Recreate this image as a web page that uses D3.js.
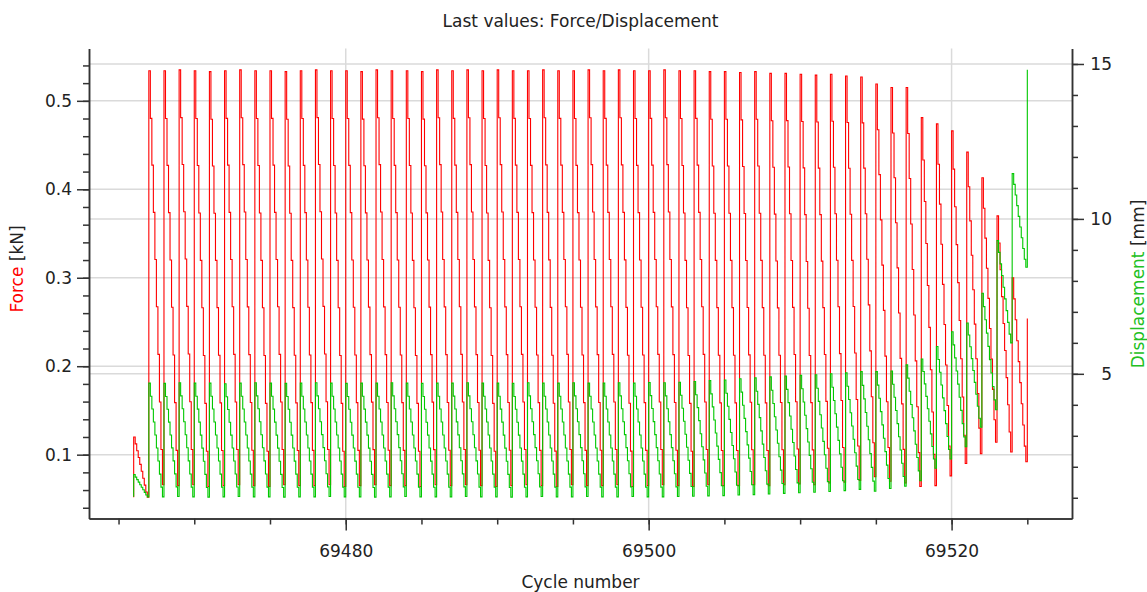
<!DOCTYPE html>
<html><head><meta charset="utf-8">
<script src="https://cdn.jsdelivr.net/npm/d3@7/dist/d3.min.js"></script>
<style>
html,body{margin:0;padding:0;background:#fff;}
svg text{font-family:"DejaVu Sans",Verdana,sans-serif;fill:#222;}
</style></head><body>
<svg id="chart" width="1147" height="592"></svg>
<script>
// Cycle-by-cycle readings: each cycle starts at its peak and decays to its low value
const firstCycle = 69466;
const forceStart = 0.052;   // kN, first sample before the first peak
const dispStart = 1.03;     // mm

// Force peak per cycle (kN), cycles 69466 .. 69525
const forcePeak = [
  0.120,
  0.534, 0.534, 0.535, 0.534, 0.533, 0.534, 0.535, 0.534, 0.534, 0.533,
  0.534, 0.535, 0.534, 0.534, 0.533, 0.535, 0.534, 0.534, 0.533, 0.535,
  0.534, 0.535, 0.534, 0.535, 0.534, 0.534, 0.535, 0.534, 0.534, 0.535,
  0.534, 0.535, 0.534, 0.534, 0.535, 0.534, 0.534, 0.533, 0.533, 0.532,
  0.533, 0.531, 0.531, 0.530, 0.529, 0.530, 0.528, 0.527, 0.519, 0.515,
  0.515, 0.481, 0.474, 0.466, 0.442, 0.413, 0.370, 0.300, 0.254
];
// Force at the end of each cycle (kN), cycles 69466 .. 69524
const forceLow = [
  0.052,
  0.066, 0.065, 0.066, 0.064, 0.065, 0.066, 0.065, 0.064, 0.066, 0.065,
  0.065, 0.066, 0.064, 0.065, 0.066, 0.065, 0.065, 0.064, 0.066, 0.065,
  0.066, 0.065, 0.064, 0.065, 0.066, 0.065, 0.064, 0.066, 0.065, 0.065,
  0.066, 0.064, 0.065, 0.066, 0.065, 0.064, 0.066, 0.065, 0.065, 0.066,
  0.065, 0.066, 0.067, 0.066, 0.068, 0.069, 0.071, 0.075, 0.070, 0.068,
  0.064, 0.065, 0.076, 0.090, 0.101, 0.114, 0.103, 0.092
];
// Displacement peak per cycle (mm), cycles 69466 .. 69525
const dispPeak = [
  1.75,
  4.70, 4.69, 4.71, 4.70, 4.70, 4.68, 4.70, 4.71, 4.70, 4.69,
  4.70, 4.71, 4.70, 4.69, 4.70, 4.70, 4.71, 4.70, 4.69, 4.70,
  4.70, 4.71, 4.70, 4.70, 4.69, 4.71, 4.70, 4.70, 4.71, 4.70,
  4.70, 4.71, 4.70, 4.72, 4.71, 4.73, 4.75, 4.78, 4.80, 4.84,
  4.87, 4.90, 4.93, 4.95, 4.97, 5.00, 5.03, 5.07, 5.07, 5.09,
  5.29, 5.48, 5.88, 6.36, 6.64, 7.60, 9.30, 11.46, 14.81
];
// Displacement at the end of each cycle (mm), cycles 69466 .. 69524
const dispLow = [
  1.03,
  1.03, 1.04, 1.03, 1.02, 1.03, 1.04, 1.03, 1.03, 1.02, 1.03,
  1.03, 1.04, 1.03, 1.03, 1.02, 1.03, 1.04, 1.03, 1.03, 1.03,
  1.04, 1.03, 1.03, 1.02, 1.03, 1.04, 1.03, 1.03, 1.04, 1.03,
  1.03, 1.04, 1.03, 1.03, 1.04, 1.05, 1.06, 1.07, 1.09, 1.10,
  1.12, 1.14, 1.16, 1.18, 1.20, 1.23, 1.27, 1.21, 1.30, 1.37,
  1.55, 1.95, 2.25, 2.65, 3.28, 3.84, 6.00, 8.44
];
// Share of the peak-to-low span left at each of the 10 samples within a cycle
const decayShare = [1.0, 0.885, 0.772, 0.658, 0.544, 0.43, 0.315, 0.2, 0.085, 0.0];

const xMajorTicks = [69480, 69500, 69520];
const xMinorTicks = d3.range(69465, 69530, 5);
const forceMajorTicks = [0.1, 0.2, 0.3, 0.4, 0.5];
const forceMinorTicks = d3.range(0.04, 0.56, 0.02);
const dispMajorTicks = [5, 10, 15];
const dispMinorTicks = d3.range(1, 16, 1);

const RED = "#ff0000", GREEN = "#00c800", INK = "#222", AXIS = "#333", GRID = "#dadada";

function buildSeries(start, peaks, lows) {
  const pts = [{c: firstCycle, v: start}];
  peaks.forEach((p, i) => {
    const c = firstCycle + i;
    if (i < lows.length) {
      decayShare.forEach((s, k) => {
        pts.push({c: c + k / decayShare.length, v: lows[i] + (p - lows[i]) * s});
      });
    } else {
      pts.push({c: c, v: p});
    }
  });
  return pts;
}
const forceSeries = buildSeries(forceStart, forcePeak, forceLow);
const dispSeries = buildSeries(dispStart, dispPeak, dispLow);

function padded(ext) { const d = (ext[1] - ext[0]) * 0.05; return [ext[0] - d, ext[1] + d]; }

const L = 89, R = 1072, T = 48.5, B = 518.5;
const svg = d3.select("#chart");

const x = d3.scaleLinear().domain(padded(d3.extent(forceSeries, d => d.c))).range([L, R]);
const yF = d3.scaleLinear().domain(padded(d3.extent(forceSeries, d => d.v))).range([B, T]);
const yD = d3.scaleLinear().domain(padded(d3.extent(dispSeries, d => d.v))).range([B, T]);

// grid
const grid = svg.append("g").attr("stroke", GRID).attr("stroke-width", 1.5);
xMajorTicks.forEach(t => grid.append("line").attr("x1", x(t)).attr("x2", x(t)).attr("y1", T).attr("y2", B));
forceMajorTicks.forEach(t => grid.append("line").attr("x1", L).attr("x2", R).attr("y1", yF(t)).attr("y2", yF(t)));
dispMajorTicks.forEach(t => grid.append("line").attr("x1", L).attr("x2", R).attr("y1", yD(t)).attr("y2", yD(t)));

// series: held values between samples give the stepped look
const plot = svg.append("g");
plot.append("path").datum(forceSeries)
  .attr("fill", "none").attr("stroke", RED).attr("stroke-width", 1.1)
  .attr("d", d3.line().curve(d3.curveStepAfter).x(d => x(d.c)).y(d => yF(d.v)));
plot.append("path").datum(dispSeries)
  .attr("fill", "none").attr("stroke", GREEN).attr("stroke-width", 1.1)
  .attr("d", d3.line().curve(d3.curveStepAfter).x(d => x(d.c)).y(d => yD(d.v)));

function styleAxis(g) {
  g.selectAll("path,line").attr("stroke", AXIS).attr("stroke-width", 1.5);
  g.selectAll("text").attr("fill", INK).style("font-size", "17px")
    .style("font-family", '"DejaVu Sans", Verdana, sans-serif');
}

// left axis
svg.append("g").attr("transform", `translate(${L},0)`)
  .call(d3.axisLeft(yF).tickValues(forceMinorTicks).tickSize(6).tickSizeOuter(0).tickFormat(""))
  .call(styleAxis);
svg.append("g").attr("transform", `translate(${L},0)`)
  .call(d3.axisLeft(yF).tickValues(forceMajorTicks).tickSize(12).tickSizeOuter(0).tickPadding(5).tickFormat(d3.format(".1f")))
  .call(styleAxis);

// right axis
svg.append("g").attr("transform", `translate(${R},0)`)
  .call(d3.axisRight(yD).tickValues(dispMinorTicks).tickSize(6).tickSizeOuter(0).tickFormat(""))
  .call(styleAxis);
const rAx = svg.append("g").attr("transform", `translate(${R},0)`)
  .call(d3.axisRight(yD).tickValues(dispMajorTicks).tickSize(12).tickSizeOuter(0).tickFormat(d3.format("d")))
  .call(styleAxis);
rAx.selectAll("text").attr("text-anchor", "end").attr("x", 40);

// bottom axis
svg.append("g").attr("transform", `translate(0,${B})`)
  .call(d3.axisBottom(x).tickValues(xMinorTicks).tickSize(6).tickSizeOuter(0).tickFormat(""))
  .call(styleAxis);
svg.append("g").attr("transform", `translate(0,${B})`)
  .call(d3.axisBottom(x).tickValues(xMajorTicks).tickSize(12).tickSizeOuter(0).tickPadding(14).tickFormat(d3.format("d")))
  .call(styleAxis);

// titles
svg.append("text").attr("x", (L + R) / 2).attr("y", 27).attr("text-anchor", "middle")
  .style("font-size", "17px").text("Last values: Force/Displacement");
svg.append("text").attr("x", (L + R) / 2).attr("y", 588).attr("text-anchor", "middle")
  .style("font-size", "17px").text("Cycle number");

const yl = svg.append("text").attr("transform", "translate(23,269) rotate(-90)")
  .attr("text-anchor", "middle").style("font-size", "17px");
yl.append("tspan").attr("fill", RED).style("fill", RED).text("Force");
yl.append("tspan").text(" [kN]");

const yr = svg.append("text").attr("transform", "translate(1144,284) rotate(-90)")
  .attr("text-anchor", "middle").style("font-size", "17px");
yr.append("tspan").style("fill", "#22c022").text("Displacement");
yr.append("tspan").text(" [mm]");
</script>
</body></html>
